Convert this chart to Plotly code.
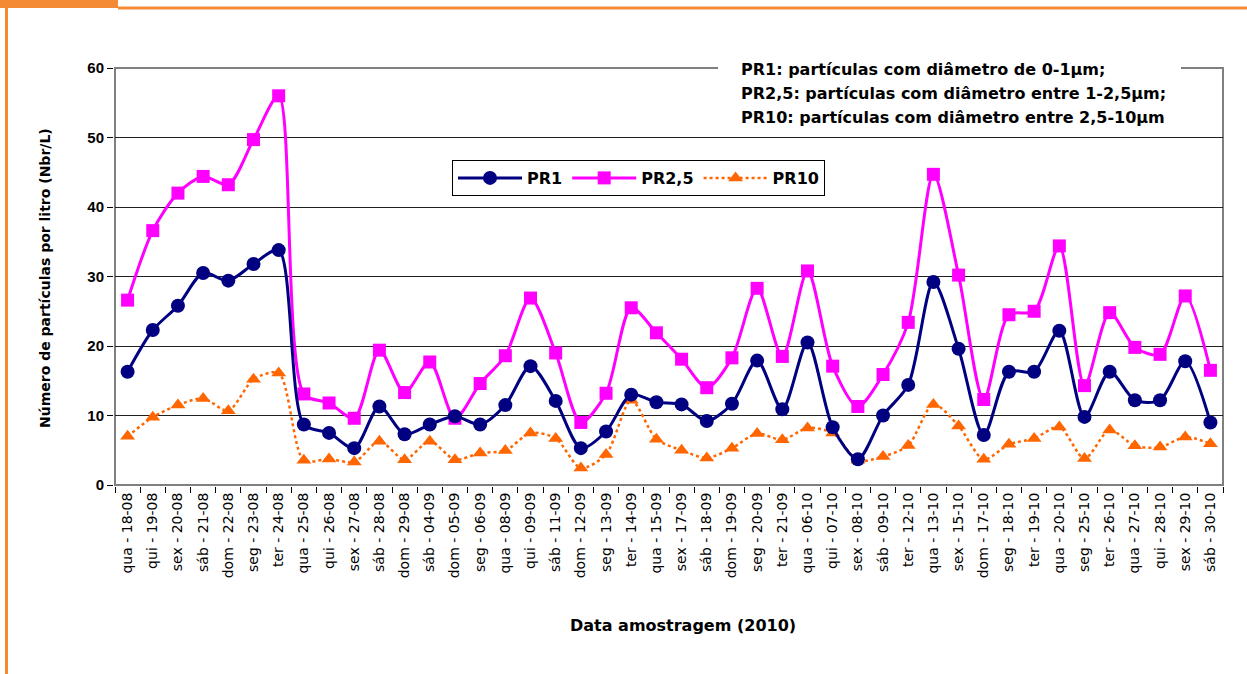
import plotly.graph_objects as go

categories = ["qua - 18-08", "qui - 19-08", "sex - 20-08", "sáb - 21-08", "dom - 22-08", "seg - 23-08",
              "ter - 24-08", "qua - 25-08", "qui - 26-08", "sex - 27-08", "sáb - 28-08", "dom - 29-08",
              "sáb - 04-09", "dom - 05-09", "seg - 06-09", "qua - 08-09", "qui - 09-09", "sáb - 11-09",
              "dom - 12-09", "seg - 13-09", "ter - 14-09", "qua - 15-09", "sex - 17-09", "sáb - 18-09",
              "dom - 19-09", "seg - 20-09", "ter - 21-09", "qua - 06-10", "qui - 07-10", "sex - 08-10",
              "sáb - 09-10", "ter - 12-10", "qua - 13-10", "sex - 15-10", "dom - 17-10", "seg - 18-10",
              "ter - 19-10", "qua - 20-10", "seg - 25-10", "ter - 26-10", "qua - 27-10", "qui - 28-10",
              "sex - 29-10", "sáb - 30-10"]

pr1 = [16.3, 22.3, 25.8, 30.5, 29.4, 31.8, 33.8, 8.7, 7.5, 5.3,
       11.3, 7.3, 8.7, 9.9, 8.7, 11.5, 17.1, 12.1, 5.3, 7.7,
       13.0, 11.9, 11.6, 9.2, 11.7, 17.9, 10.9, 20.5, 8.3, 3.7,
       10.0, 14.4, 29.2, 19.6, 7.2, 16.3, 16.3, 22.2, 9.8, 16.3,
       12.2, 12.2, 17.8, 9.0]

pr25 = [26.6, 36.6, 42.0, 44.4, 43.2, 49.7, 56.0, 13.1, 11.8, 9.6,
        19.4, 13.3, 17.7, 9.6, 14.6, 18.6, 26.9, 19.0, 9.0, 13.2,
        25.5, 21.9, 18.1, 14.0, 18.3, 28.3, 18.5, 30.8, 17.1, 11.3,
        15.9, 23.4, 44.7, 30.2, 12.3, 24.5, 25.0, 34.4, 14.3, 24.8,
        19.8, 18.8, 27.2, 16.5]

pr10 = [7.0, 9.75, 11.5, 12.45, 10.7, 15.2, 16.1, 3.55, 3.75, 3.3,
        6.3, 3.65, 6.3, 3.65, 4.6, 4.95, 7.5, 6.7, 2.45, 4.4,
        12.2, 6.6, 5.0, 3.9, 5.3, 7.4, 6.5, 8.2, 7.5, 3.55,
        4.1, 5.7, 11.6, 8.5, 3.7, 5.85, 6.7, 8.35, 3.8, 7.9,
        5.65, 5.45, 6.9, 5.95]

y_ticks = [0, 10, 20, 30, 40, 50, 60]
note_lines = ["PR1: partículas com diâmetro de 0-1µm;",
              "PR2,5: partículas com diâmetro entre 1-2,5µm;",
              "PR10: partículas com diâmetro entre 2,5-10µm"]

FONT = "Liberation Sans, Arial, sans-serif"
WIDE = "DejaVu Sans, Liberation Sans, sans-serif"
ORANGE_FRAME = "#F58A35"

# pixel -> paper helpers (plot area: x 115..1223, y 68..485)
L, R, T, B = 115, 1223, 68, 485
def px(x):
    return (x - L) / (R - L)
def py(y):
    return (B - y) / (B - T)

fig = go.Figure()
fig.add_trace(go.Scatter(
    x=categories, y=pr1, name="PR1", mode="lines+markers",
    line=dict(color="#000080", width=3, shape="spline", smoothing=0.8),
    marker=dict(symbol="circle", size=14, color="#000080"), zorder=3))
fig.add_trace(go.Scatter(
    x=categories, y=pr25, name="PR2,5", mode="lines+markers",
    line=dict(color="#FF00FF", width=3, shape="spline", smoothing=0.8),
    marker=dict(symbol="square", size=13, color="#FF00FF"), zorder=2))
fig.add_trace(go.Scatter(
    x=categories, y=pr10, name="PR10", mode="lines+markers",
    line=dict(color="#FF6600", width=2.5, dash="dot", shape="spline", smoothing=0.8),
    marker=dict(symbol="triangle-up", size=13, color="#FF6600"), zorder=1))

shapes = [
    dict(type="rect", xref="paper", yref="paper", x0=0, x1=1, y0=0, y1=1,
         line=dict(color="#808080", width=2), layer="below"),
    dict(type="rect", xref="paper", yref="paper", x0=px(718), x1=px(1181), y0=py(133), y1=py(57),
         fillcolor="white", line=dict(width=0), layer="above"),
    dict(type="rect", xref="paper", yref="paper", x0=px(0), x1=px(118), y0=py(8), y1=py(-2),
         fillcolor=ORANGE_FRAME, line=dict(width=0), layer="above"),
    dict(type="line", xref="paper", yref="paper", x0=px(118), x1=px(1250), y0=py(8), y1=py(8),
         line=dict(color=ORANGE_FRAME, width=3), layer="above"),
    dict(type="line", xref="paper", yref="paper", x0=px(6.5), x1=px(6.5), y0=py(8), y1=py(680),
         line=dict(color=ORANGE_FRAME, width=3), layer="above"),
]

annotations = []
for i, t in enumerate(note_lines):
    annotations.append(dict(
        text="<b>" + t + "</b>", xref="paper", yref="paper", x=px(739), y=py(70 + 23.5 * i),
        xanchor="left", yanchor="middle", showarrow=False,
        font=dict(family=WIDE, size=16, color="black")))
annotations.append(dict(
    text="<b>Data amostragem (2010)</b>", xref="paper", yref="paper", x=px(683), y=py(625),
    xanchor="center", yanchor="middle", showarrow=False,
    font=dict(family=WIDE, size=16, color="black")))
annotations.append(dict(
    text="<b>Número de partículas por litro (Nbr/L)</b>", xref="paper", yref="paper",
    x=px(45), y=py(278), xanchor="center", yanchor="middle", textangle=-90, showarrow=False,
    font=dict(family=WIDE, size=14, color="black")))

fig.update_layout(
    width=1247, height=674,
    margin=dict(l=L, r=1247 - R, t=T, b=674 - B, pad=0),
    paper_bgcolor="white", plot_bgcolor="white",
    font=dict(family=FONT, color="black"),
    showlegend=True,
    legend=dict(orientation="h", x=px(452), y=py(160), xanchor="left", yanchor="top",
                bordercolor="black", borderwidth=1, bgcolor="white",
                font=dict(family=WIDE, size=16, color="black", weight="bold"),
                itemwidth=64, tracegroupgap=0),
    shapes=shapes, annotations=annotations,
    xaxis=dict(type="category", categoryorder="array", categoryarray=categories,
               range=[-0.5, len(categories) - 0.5], autorange=False,
               showline=True, linecolor="black", linewidth=2, mirror=False,
               ticks="outside", tickson="boundaries", ticklen=6, tickcolor="black", tickwidth=1,
               tickangle=-90, tickfont=dict(family=WIDE, size=14, color="black"),
               showgrid=False, zeroline=False),
    yaxis=dict(range=[0, 60], autorange=False, tickvals=y_ticks, showline=True,
               linecolor="black", linewidth=2,
               ticks="outside", ticklen=6, tickcolor="black",
               tickfont=dict(family=FONT, size=15, color="black", weight="bold"),
               showgrid=True, gridcolor="#202020", gridwidth=1, zeroline=False),
)

fig.write_html("out.html", config={"displayModeBar": False},
               post_script="document.body.style.margin='0';document.body.style.padding='0';"
                           "document.body.style.overflow='hidden';")
